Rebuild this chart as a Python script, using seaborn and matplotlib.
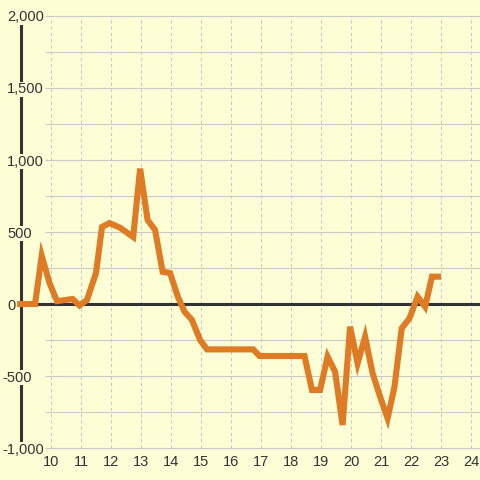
import matplotlib
matplotlib.use("Agg")
import matplotlib.pyplot as plt
import seaborn as sns
import pandas as pd

# ---- data ----
months = [8.87, 9.47, 9.69, 9.95, 10.2, 10.72, 10.95, 11.2, 11.5, 11.7, 11.95,
          12.3, 12.74, 12.97, 13.22, 13.47, 13.72, 13.97, 14.22, 14.45, 14.7,
          14.97, 15.2, 16.74, 16.95, 18.45, 18.7, 18.97, 19.22, 19.47, 19.72,
          19.97, 20.22, 20.47, 20.72, 20.97, 21.22, 21.45, 21.69, 21.95, 22.22,
          22.47, 22.7, 23.0]
balance = [0, 0, 335, 146, 20, 35, -10, 28, 215, 535, 562,
           530, 465, 940, 583, 514, 224, 215, 55, -53, -111,
           -250, -315, -315, -361, -361, -597, -597, -365, -470, -840,
           -157, -412, -227, -481, -644, -794, -574, -169, -99, 51,
           -19, 190, 190]
y_ticks = [-1000, -500, 0, 500, 1000, 1500, 2000]
y_tick_labels = ["-1,000", "-500", "0", "500", "1,000", "1,500", "2,000"]
x_ticks = list(range(10, 25))
x_tick_labels = [str(v) for v in x_ticks]
grid_y = list(range(-1000, 2001, 250))

BG = "#fdfdd6"
ORANGE = "#df7b25"
DARK = "#333333"

sns.set_style("white")
plt.rcParams['font.family'] = ['Liberation Sans', 'DejaVu Sans']

fig = plt.figure(figsize=(4.8, 4.8), dpi=100, facecolor=BG)
ax = fig.add_axes([0, 0, 1, 1])
ax.set_facecolor(BG)
ax.set_xlim(8.3, 24.3)
ax.set_ylim(-1222, 2111)
for s in ax.spines.values():
    s.set_visible(False)

# grid
ax.hlines(grid_y, 9.8, 24.3, color="#cacaca", lw=0.8, zorder=0.5)
ax.vlines(x_ticks, -1000, 2000, color="#c8c8c8", lw=0.75,
          linestyles=(0, (3, 3)), zorder=0.5)
# axes lines
ax.vlines([9.0], -1000, 2000, color=DARK, lw=2.2, zorder=1)
ax.hlines([0], 9.0, 24.3, color=DARK, lw=2.2, zorder=1)

df = pd.DataFrame({"month": months, "balance": balance})
sns.lineplot(data=df, x="month", y="balance", sort=False, estimator=None,
             color=ORANGE, lw=4.4, ax=ax, zorder=3)
for ln in ax.get_lines():
    ln.set_solid_joinstyle("miter")
    ln.set_solid_capstyle("butt")

ax.set_xticks(x_ticks, x_tick_labels)
ax.tick_params(axis='x', length=0, pad=-18.2, labelsize=10.5, labelcolor=DARK)
ax.set_yticks([])
for v, lab in zip(y_ticks, y_tick_labels):
    xpx = 2.3 if lab.startswith('-') else 7.3
    ax.text(xpx / 480, v, lab, transform=ax.get_yaxis_transform(),
            ha='left', va='center_baseline', fontsize=10.5, color=DARK,
            bbox=dict(fc=BG, ec='none', pad=0.5), zorder=2)
ax.set_xlabel('')
ax.set_ylabel('')

fig.savefig('out.png', dpi=100, facecolor=BG)
